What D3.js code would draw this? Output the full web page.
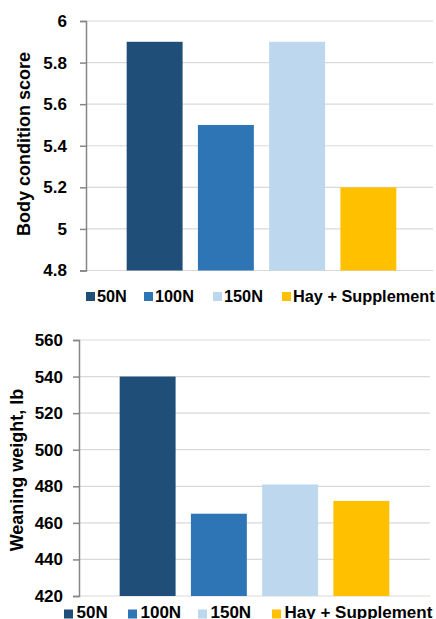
<!DOCTYPE html>
<html><head><meta charset="utf-8">
<script src="https://cdn.jsdelivr.net/npm/d3@7"></script>
<style>body{margin:0;background:#fff}svg{display:block}text{font-family:"Liberation Sans",Arial,sans-serif;font-weight:bold;fill:#000}</style>
</head><body>
<svg id="c" width="436" height="619"></svg>
<script>
const series = ["50N", "100N", "150N", "Hay + Supplement"];
const colors = ["#1F4E79", "#2E75B6", "#BDD7EE", "#FFC000"];
const bcsValues = [5.9, 5.5, 5.9, 5.2];
const bcsTicks = [4.8, 5, 5.2, 5.4, 5.6, 5.8, 6];
const wwValues = [540, 465, 481, 472];
const wwTicks = [420, 440, 460, 480, 500, 520, 540, 560];

const svg = d3.select("#c");

function panel(cfg) {
  const g = svg.append("g");
  const y = d3.scaleLinear().domain(cfg.domain).range([cfg.y1, cfg.y0]);
  const x = d3.scaleBand().domain(series).range(cfg.barRange).paddingInner(0.215).paddingOuter(0.1075);
  g.selectAll("line.grid").data(cfg.ticks).join("line")
    .attr("x1", cfg.axisX).attr("x2", cfg.gridEnd)
    .attr("y1", d => y(d)).attr("y2", d => y(d))
    .attr("stroke", "#d9d9d9").attr("stroke-width", 1.2);
  g.selectAll("rect.bar").data(cfg.values).join("rect")
    .attr("x", (d, i) => x(series[i])).attr("width", x.bandwidth())
    .attr("y", d => y(d)).attr("height", d => y(cfg.domain[0]) - y(d))
    .attr("fill", (d, i) => colors[i]);
  const ax = g.append("g").attr("transform", `translate(${cfg.axisX},0)`)
    .call(d3.axisLeft(y).tickValues(cfg.ticks).tickSize(6).tickPadding(cfg.tickPad).tickFormat(cfg.fmt));
  ax.select(".domain").attr("stroke", "#868686").attr("stroke-width", 1.5);
  ax.selectAll(".tick line").attr("stroke", "#868686").attr("stroke-width", 1.5);
  ax.selectAll(".tick text").attr("font-size", 17).attr("font-family", '"Liberation Sans",Arial,sans-serif').attr("font-weight", "bold").attr("fill", "#000");
  g.append("text").attr("transform", `translate(${cfg.titleX},${cfg.titleY}) rotate(-90)`)
    .attr("text-anchor", "middle").attr("font-size", 18).text(cfg.title);
  const lg = g.selectAll("g.leg").data(series).join("g")
    .attr("transform", (d, i) => `translate(${cfg.legX[i]},${cfg.legY})`);
  lg.append("rect").attr("x", 0).attr("y", -4.5).attr("width", 9).attr("height", 9)
    .attr("fill", (d, i) => colors[i]);
  lg.append("text").attr("x", cfg.legTextOff).attr("y", cfg.legBase).attr("font-size", cfg.legFont).text(d => d);
}

panel({
  domain: [4.8, 6], ticks: bcsTicks, values: bcsValues, fmt: d3.format("~g"), tickPad: 13,
  y0: 21, y1: 270.5, axisX: 86, gridEnd: 433, barRange: [119, 404],
  title: "Body condition score", titleX: 30, titleY: 144,
  legX: [86, 144, 213, 282], legY: 296.5, legTextOff: 11, legBase: 5.5, legFont: 16.3
});
panel({
  domain: [420, 560], ticks: wwTicks, values: wwValues, fmt: d3.format("d"), tickPad: 10,
  y0: 340, y1: 596, axisX: 79, gridEnd: 430, barRange: [112, 397],
  title: "Weaning weight, lb", titleX: 23, titleY: 470,
  legX: [64, 128, 198, 272], legY: 614, legTextOff: 12.5, legBase: 4, legFont: 17
});
</script>
</body></html>
